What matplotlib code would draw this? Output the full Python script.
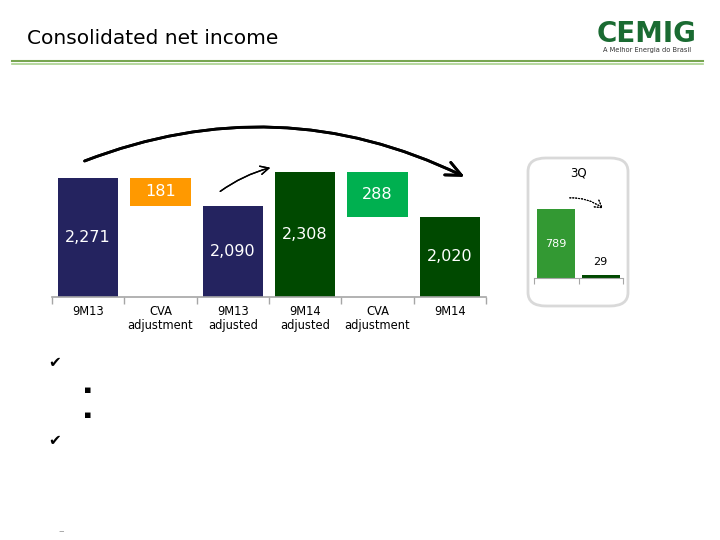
import matplotlib.pyplot as plt
from matplotlib.patches import FancyBboxPatch

# main waterfall chart data (R$ million)
categories = ["9M13", "CVA\nadjustment", "9M13\nadjusted", "9M14\nadjusted", "CVA\nadjustment", "9M14"]
values = [2271, 181, 2090, 2308, 288, 2020]
float_base = [None, 2090, None, None, 2020, None]   # floating bars start here
labels = ["2,271", "181", "2,090", "2,308", "288", "2,020"]
colors = ["#24235F", "#FF9900", "#24235F", "#004900", "#00B050", "#004900"]

# small 3Q chart
q_values = [789, 29]
q_labels = ["789", "29"]
q_colors = ["#339933", "#004900"]

W, H = 720, 540
fig = plt.figure(figsize=(7.2, 5.4), dpi=100)
fig.patch.set_facecolor("white")

def px(x, y, w=0, h=0):
    # pixel box (top-left origin) -> figure fraction rect
    return [x / W, 1 - (y + h) / H, w / W, h / H]

# header
fig.text(27 / W, 1 - 38 / H, "Consolidated net income", fontsize=14.5,
         va="center", ha="left", color="black", family="DejaVu Sans")
fig.add_artist(plt.Line2D([12 / W, 703 / W], [1 - 61 / H] * 2, color="#77A550", lw=1.5))
fig.add_artist(plt.Line2D([12 / W, 703 / W], [1 - 63.5 / H] * 2, color="#A9D18E", lw=1.2))
fig.text(647 / W, 1 - 34 / H, "CEMIG", fontsize=20, fontweight="bold", color="#1A6B32",
         ha="center", va="center", family="DejaVu Sans")
fig.text(647 / W, 1 - 50 / H, "A Melhor Energia do Brasil", fontsize=4.8, color="#333333",
         ha="center", va="center")

# main chart
ybase = 1502
ax = fig.add_axes(px(52, 111, 434, 186))
x = range(len(categories))
bottoms = [b if b is not None else ybase for b in float_base]
heights = [v if b is not None else v - ybase for v, b in zip(values, float_base)]
bars = ax.bar(x, heights, bottom=bottoms, width=0.83, color=colors)
ax.bar_label(bars, labels=labels, label_type="center", color="white", fontsize=11.5)
ax.set_xlim(-0.5, 5.5)
ax.set_ylim(ybase, 2700)
ax.set_xticks(list(x))
ax.set_xticklabels(categories, fontsize=8.3, linespacing=1.1)
ax.set_xticks([i - 0.5 for i in range(len(categories) + 1)], minor=True)
ax.tick_params(axis="x", which="major", length=0, pad=6)
ax.tick_params(axis="x", which="minor", length=5, color="#A6A6A6", width=1)
ax.set_yticks([])
for s in ["top", "right", "left"]:
    ax.spines[s].set_visible(False)
ax.spines["bottom"].set_color("#A6A6A6")
ax.spines["bottom"].set_linewidth(1.2)
ax.patch.set_alpha(0)

# arrows
fig.add_artist(plt.annotate("", xy=(467, H - 178), xytext=(82, H - 162),
               xycoords="figure pixels", textcoords="figure pixels",
               arrowprops=dict(arrowstyle="->,head_length=1.1,head_width=0.5",
                               connectionstyle="arc3,rad=-0.22", color="black", lw=2)))
fig.add_artist(plt.annotate("", xy=(273, H - 167), xytext=(218, H - 193),
               xycoords="figure pixels", textcoords="figure pixels",
               arrowprops=dict(arrowstyle="->,head_length=0.6,head_width=0.3",
                               connectionstyle="arc3,rad=-0.1", color="black", lw=1)))

# 3Q box (behind the small chart)
box = FancyBboxPatch((528 / W, 1 - 306 / H), 100 / W, 148 / H,
                     boxstyle="round,pad=0,rounding_size=0.025",
                     transform=fig.transFigure, facecolor="white",
                     edgecolor="#D9D9D9", lw=2, zorder=-1)
fig.add_artist(box)
fig.text(578 / W, 1 - 173 / H, "3Q", fontsize=8.5, ha="center", va="center")

ax2 = fig.add_axes(px(534, 190, 89, 88))
ax2.bar([0, 1], q_values, width=0.85, color=q_colors)
ax2.text(0, q_values[0] / 2, q_labels[0], color="white", ha="center", va="center", fontsize=8)
ax2.text(1, q_values[1] + 150, q_labels[1], color="black", ha="center", va="center", fontsize=8)
ax2.set_xlim(-0.5, 1.5)
ax2.set_ylim(0, 1010)
ax2.set_xticks([-0.5, 0.5, 1.5])
ax2.set_xticklabels([])
ax2.tick_params(axis="x", length=4, color="#A6A6A6")
ax2.set_yticks([])
for s in ["top", "right", "left"]:
    ax2.spines[s].set_visible(False)
ax2.spines["bottom"].set_color("#A6A6A6")
ax2.patch.set_alpha(0)
fig.add_artist(plt.annotate("", xy=(605, H - 210), xytext=(567, H - 198),
               xycoords="figure pixels", textcoords="figure pixels",
               arrowprops=dict(arrowstyle="->,head_length=0.5,head_width=0.3",
                               connectionstyle="arc3,rad=-0.2", color="black",
                               lw=0.8, linestyle=":")))

# bullet markers (text below is blank in the slide)
for yy in [362, 441]:
    fig.text(55 / W, 1 - yy / H, "\u2714", fontsize=11, ha="center", va="center")
for yy in [390, 415]:
    fig.text(88 / W, 1 - yy / H, "\u25aa", fontsize=8, ha="center", va="center")
fig.text(61 / W, 1 - 531 / H, "\u2013", fontsize=8, color="#999999", ha="center", va="center")

fig.savefig("out.png", dpi=100)
